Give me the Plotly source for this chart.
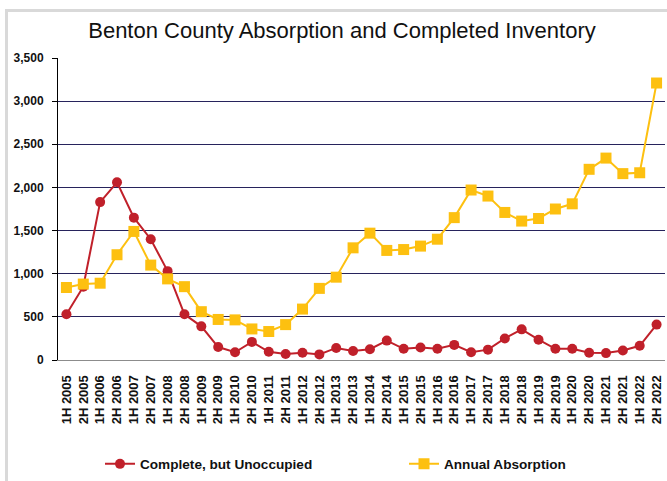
import plotly.graph_objects as go

periods = []
for yr in range(2005, 2023):
    periods.append(f"1H {yr}")
    periods.append(f"2H {yr}")

unoccupied = [530, 850, 1830, 2060, 1650, 1400, 1030, 530, 390, 150,
              90, 210, 95, 70, 85, 65, 140, 105, 125, 225,
              130, 145, 130, 175, 90, 120, 250, 355, 235, 130,
              130, 85, 80, 110, 165, 410]
absorption = [840, 880, 890, 1220, 1490, 1100, 940, 850, 560, 470,
              465, 360, 330, 410, 590, 830, 960, 1300, 1470, 1270,
              1280, 1320, 1400, 1650, 1970, 1900, 1710, 1610, 1640, 1750,
              1810, 2210, 2340, 2160, 2170, 3210]

y_ticks = [0, 500, 1000, 1500, 2000, 2500, 3000, 3500]

RED = "#C0202A"
GOLD = "#FDC010"
FONT = "Liberation Sans"

W, H = 667, 481
L, R, T, B = 58, 2, 58, 121
pw, ph = W - L - R, H - T - B

def px(x):
    return (x - L) / pw

def py(y):
    return (H - B - y) / ph

fig = go.Figure()
fig.add_trace(go.Scatter(
    x=periods, y=unoccupied, name="Complete, but Unoccupied",
    mode="lines+markers",
    line=dict(color=RED, width=2),
    marker=dict(symbol="circle", size=10, color=RED),
    legend="legend",
))
fig.add_trace(go.Scatter(
    x=periods, y=absorption, name="Annual Absorption",
    mode="lines+markers",
    line=dict(color=GOLD, width=2),
    marker=dict(symbol="square", size=11, color=GOLD),
    legend="legend2",
))

legend_common = dict(orientation="h", xanchor="left", yanchor="middle",
                     font=dict(family=FONT, size=13.6, color="#111111", weight="bold"),
                     bgcolor="rgba(0,0,0,0)", borderwidth=0)

fig.update_layout(
    width=W, height=H,
    margin=dict(l=L, r=R, t=T, b=B, pad=0),
    paper_bgcolor="white", plot_bgcolor="white",
    title=dict(text="Benton County Absorption and Completed Inventory",
               x=342 / W, xanchor="center", y=1 - 30 / H, yanchor="middle",
               font=dict(family=FONT, size=22, color="#111111")),
    showlegend=True,
    legend=dict(x=px(100), y=py(464), **legend_common),
    legend2=dict(x=px(404), y=py(464), **legend_common),
    xaxis=dict(type="category", range=[-0.5, len(periods) - 0.5],
               tickangle=-90, showgrid=False, showline=True,
               linecolor="#8C8C8C", linewidth=1, ticks="",
               ticklabelstandoff=9,
               tickfont=dict(family=FONT, size=13, color="#111111", weight="bold"),
               zeroline=False, fixedrange=True),
    yaxis=dict(range=[0, 3500], tickvals=y_ticks, tickformat=",",
               showgrid=True, gridcolor="#27235C", gridwidth=1,
               showline=True, linecolor="black", linewidth=1,
               ticks="outside", ticklen=5, tickcolor="black",
               ticklabelstandoff=6,
               tickfont=dict(family=FONT, size=12, color="#111111", weight="bold"),
               zeroline=False, fixedrange=True),
    shapes=[dict(type="rect", xref="paper", yref="paper",
                 x0=px(6.5), x1=px(672), y0=py(490), y1=py(10.5),
                 line=dict(color="#D9D9D9", width=3), fillcolor="rgba(0,0,0,0)",
                 layer="below")],
)

fig.write_html("out.html", config={"displayModeBar": False})

with open("out.html", "r", encoding="utf-8") as f:
    html = f.read()
html = html.replace("<head>", "<head><style>html,body{margin:0;padding:0;overflow:hidden;}</style>", 1)
with open("out.html", "w", encoding="utf-8") as f:
    f.write(html)
